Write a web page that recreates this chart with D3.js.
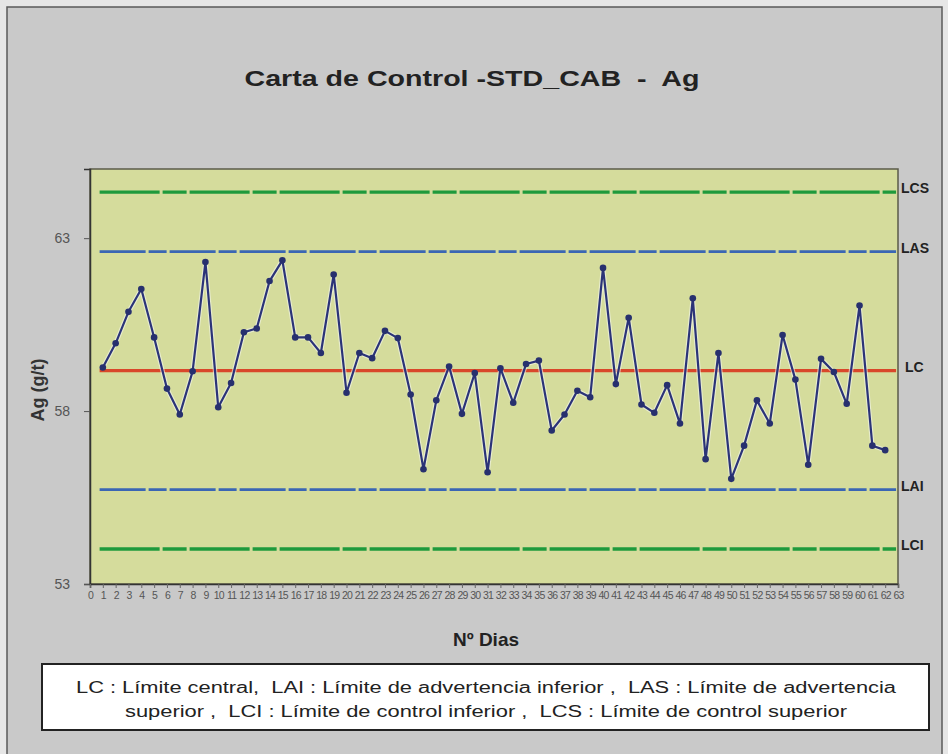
<!DOCTYPE html>
<html>
<head>
<meta charset="utf-8">
<script src="https://cdn.jsdelivr.net/npm/d3@7"></script>
<style>
  html, body { margin: 0; padding: 0; background: #e6e6e6; }
  svg { display: block; font-family: "Liberation Sans", Arial, sans-serif; }
  text { white-space: pre; }
</style>
</head>
<body>
<svg id="chart" width="948" height="754"></svg>
<script>
// Day numbers and Ag assays (g/t) for the STD_CAB standard
const days = d3.range(1, 63);
const agValues = [
  59.26, 59.96, 60.87, 61.53, 60.13, 58.65, 57.90, 59.15, 62.31, 58.11,
  58.81, 60.28, 60.39, 61.76, 62.36, 60.13, 60.13, 59.68, 61.95, 58.53,
  59.68, 59.53, 60.32, 60.11, 58.48, 56.32, 58.31, 59.29, 57.92, 59.10,
  56.23, 59.24, 58.24, 59.36, 59.46, 57.44, 57.90, 58.59, 58.40, 62.14,
  58.78, 60.70, 58.19, 57.95, 58.75, 57.64, 61.26, 56.61, 59.68, 56.04,
  57.00, 58.31, 57.64, 60.20, 58.91, 56.45, 59.51, 59.13, 58.21, 61.05,
  57.00, 56.87
];

// Control limits
const limitNames  = ["LCS", "LAS", "LC", "LAI", "LCI"];
const limitValues = [64.33, 62.61, 59.17, 55.73, 54.01];
const limitColors = ["#1f9a3c", "#3a66b4", "#d9472a", "#3a66b4", "#1f9a3c"];
const limitDashes = ["60,3,24,3", "46,3,18,3", null, "46,3,18,3", "60,3,24,3"];

// Axis ticks
const xTicks = d3.range(0, 64);
const yTicks = [53, 58, 63];

const title = "Carta de Control -STD_CAB  -  Ag";
const legendLines = [
  "LC : Límite central,  LAI : Límite de advertencia inferior ,  LAS : Límite de advertencia",
  "superior ,  LCI : Límite de control inferior ,  LCS : Límite de control superior"
];

const svg = d3.select("#chart");

// Outer chart panel
svg.append("rect")
  .attr("x", 7).attr("y", 7).attr("width", 935).attr("height", 752)
  .attr("fill", "#c9c9c9").attr("stroke", "#5a5a5a").attr("stroke-width", 1.5);

// Title
svg.append("text")
  .attr("x", 472).attr("y", 86)
  .attr("text-anchor", "middle")
  .attr("font-size", 22).attr("font-weight", "bold").attr("fill", "#222")
  .attr("textLength", 455).attr("lengthAdjust", "spacingAndGlyphs")
  .text(title);

const plot = { left: 90, right: 898, top: 169, bottom: 584 };

const x = d3.scaleLinear().domain([0, 63]).range([plot.left, plot.right]);
const y = d3.scaleLinear().domain([53, 65]).range([plot.bottom, plot.top]);

// Plot background
svg.append("rect")
  .attr("x", plot.left).attr("y", plot.top)
  .attr("width", plot.right - plot.left).attr("height", plot.bottom - plot.top)
  .attr("fill", "#d5dc9c").attr("stroke", "#5b5b4a").attr("stroke-width", 1.5);

// Y axis
const yAxis = svg.append("g")
  .attr("transform", `translate(${plot.left},0)`)
  .call(d3.axisLeft(y).tickValues(yTicks).tickSize(6).tickPadding(14));
yAxis.select(".domain").attr("stroke", "#333").attr("stroke-width", 1.5);
yAxis.selectAll(".tick line").attr("stroke", "#555");
yAxis.selectAll(".tick text").attr("font-size", 14).attr("fill", "#555")
  .attr("font-family", "Liberation Sans, Arial, sans-serif");

// X axis: one tick per day, labels crowd together
const xAxis = svg.append("g")
  .attr("transform", `translate(0,${plot.bottom})`)
  .call(d3.axisBottom(x).tickValues(xTicks).tickSize(4).tickPadding(4).tickFormat(d3.format("d")));
xAxis.select(".domain").attr("stroke", "#333").attr("stroke-width", 1.5);
xAxis.selectAll(".tick line").attr("stroke", "#666");
xAxis.selectAll(".tick text").attr("font-size", 10.5).attr("fill", "#555")
  .attr("letter-spacing", "-0.8")
  .attr("font-family", "Liberation Sans, Arial, sans-serif");

// Control limit lines
const limits = limitNames.map((n, i) => ({ name: n, value: limitValues[i], color: limitColors[i], dash: limitDashes[i] }));
svg.append("g").selectAll("line")
  .data(limits)
  .join("line")
  .attr("x1", x(0.75)).attr("x2", x(62.85))
  .attr("y1", d => y(d.value)).attr("y2", d => y(d.value))
  .attr("stroke", d => d.color)
  .attr("stroke-width", d => d.name === "LC" ? 3.2 : (d.name === "LAS" || d.name === "LAI" ? 2.6 : 3.4))
  .attr("stroke-dasharray", d => d.dash);

svg.append("g").selectAll("text")
  .data(limits)
  .join("text")
  .attr("x", d => d.name === "LC" ? 905 : 901)
  .attr("y", d => y(d.value) + 1)
  .attr("font-size", 14).attr("font-weight", "bold").attr("fill", "#222")
  .text(d => d.name);

// Data series
const pts = days.map((d, i) => ({ day: d, v: agValues[i] }));
const line = d3.line().x(d => x(d.day)).y(d => y(d.v));

svg.append("path").datum(pts)
  .attr("d", line).attr("fill", "none")
  .attr("stroke", "#f4f6ee").attr("stroke-opacity", 0.6).attr("stroke-width", 4.5)
  .attr("stroke-linejoin", "round");
svg.append("path").datum(pts)
  .attr("d", line).attr("fill", "none")
  .attr("stroke", "#2b3378").attr("stroke-width", 2.2)
  .attr("stroke-linejoin", "round");

svg.append("g").selectAll("circle")
  .data(pts)
  .join("circle")
  .attr("cx", d => x(d.day)).attr("cy", d => y(d.v))
  .attr("r", 3.3)
  .attr("fill", "#27306e");

// Axis titles
svg.append("text")
  .attr("transform", "translate(44,390) rotate(-90)")
  .attr("text-anchor", "middle")
  .attr("font-size", 18).attr("font-weight", "bold").attr("fill", "#333")
  .text("Ag (g/t)");

svg.append("text")
  .attr("x", 486).attr("y", 646)
  .attr("text-anchor", "middle")
  .attr("font-size", 19).attr("font-weight", "bold").attr("fill", "#222")
  .text("Nº Dias");

// Legend box
svg.append("rect")
  .attr("x", 42).attr("y", 664).attr("width", 887).attr("height", 66)
  .attr("fill", "#ffffff").attr("stroke", "#222").attr("stroke-width", 2);

const legendWidths = [820, 722];
svg.append("g").selectAll("text")
  .data(legendLines)
  .join("text")
  .attr("x", 486).attr("y", (d, i) => 693 + i * 24)
  .attr("text-anchor", "middle")
  .attr("font-size", 16).attr("fill", "#222")
  .attr("textLength", (d, i) => legendWidths[i]).attr("lengthAdjust", "spacingAndGlyphs")
  .text(d => d);
</script>
</body>
</html>
